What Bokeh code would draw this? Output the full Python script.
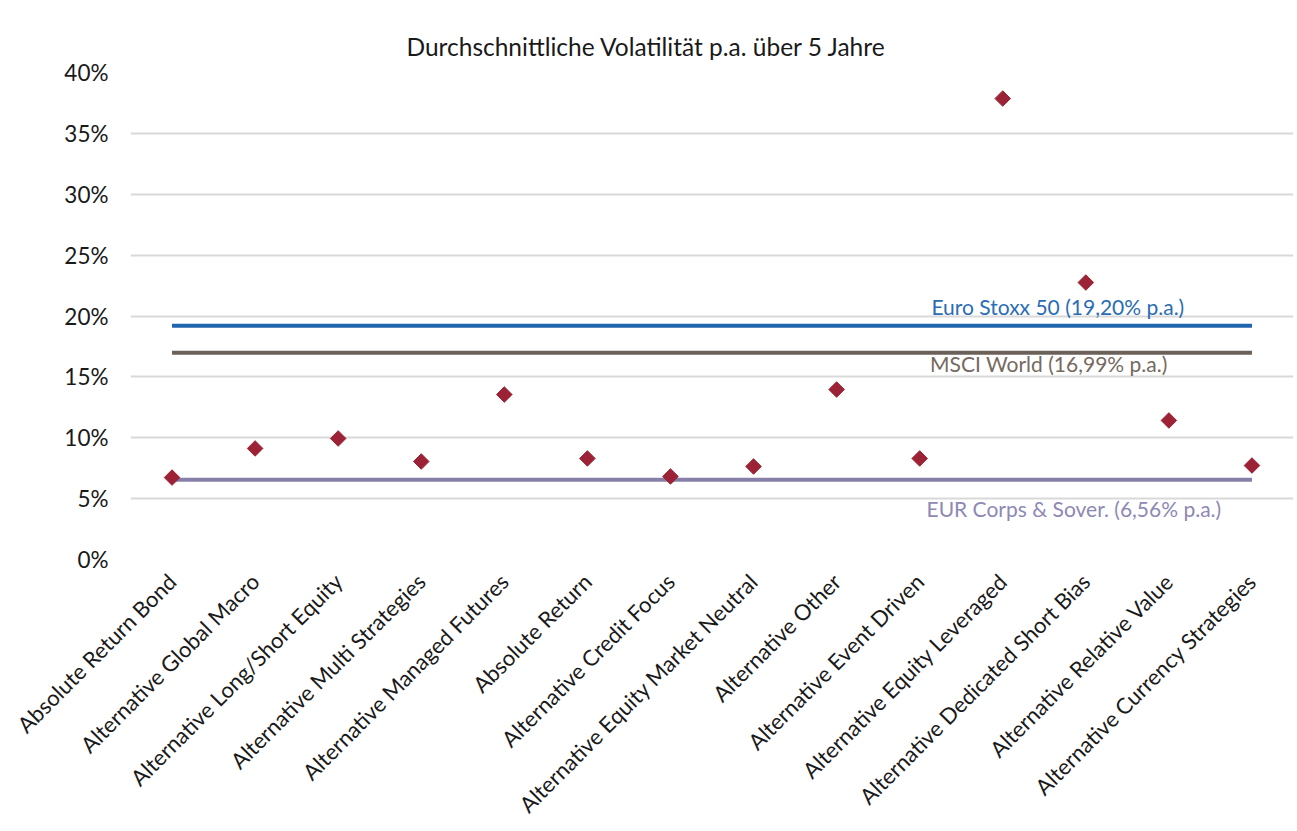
import math
from bokeh.plotting import figure
from bokeh.models import Range1d, FactorRange, FixedTicker, Title
from bokeh.core.properties import value
from bokeh.embed import file_html
from bokeh.resources import INLINE

categories = [
    "Absolute Return Bond",
    "Alternative Global Macro",
    "Alternative Long/Short Equity",
    "Alternative Multi Strategies",
    "Alternative Managed Futures",
    "Absolute Return",
    "Alternative Credit Focus",
    "Alternative Equity Market Neutral",
    "Alternative Other",
    "Alternative Event Driven",
    "Alternative Equity Leveraged",
    "Alternative Dedicated Short Bias",
    "Alternative Relative Value",
    "Alternative Currency Strategies",
]
volatility = [6.73, 9.12, 9.94, 8.05, 13.55, 8.30, 6.82, 7.64, 13.96, 8.30, 37.86, 22.75, 11.42, 7.72]

benchmark_names = ["Euro Stoxx 50 (19,20% p.a.)", "MSCI World (16,99% p.a.)", "EUR Corps & Sover. (6,56% p.a.)"]
benchmark_values = [19.20, 16.99, 6.56]

y_ticks = [0, 5, 10, 15, 20, 25, 30, 35, 40]
y_tick_labels = ["0%", "5%", "10%", "15%", "20%", "25%", "30%", "35%", "40%"]

title_text = "Durchschnittliche Volatilität p.a. über 5 Jahre"

FONT = "Lato"

p = figure(
    frame_width=1163, frame_height=487,
    x_range=FactorRange(*categories, range_padding=0),
    y_range=Range1d(0, 40),
    output_backend="svg", toolbar_location=None,
    min_border_left=130, min_border_right=2, min_border_top=72, min_border_bottom=260,
)
p.x_range.factor_padding = 0
p.outline_line_color = None
p.background_fill_color = "white"
p.border_fill_color = "white"

t = Title(text=title_text, align="left", offset=276, vertical_align="top",
          text_font=FONT, text_font_size="24.5px",
          text_font_style="normal", text_color="#1a1a1a", standoff=20)
p.add_layout(t, "above")

# grid
p.xgrid.grid_line_color = None
p.ygrid.grid_line_color = "#d9d9d9"
p.ygrid.grid_line_width = 2

# y axis
p.yaxis.ticker = FixedTicker(ticks=y_ticks)
p.yaxis.major_label_overrides = {t_: l for t_, l in zip(y_ticks, y_tick_labels)}
p.yaxis.axis_line_color = None
p.yaxis.major_tick_line_color = None
p.yaxis.minor_tick_line_color = None
p.yaxis.major_label_text_font = FONT
p.yaxis.major_label_text_font_size = "22.5px"
p.yaxis.major_label_text_color = "#1a1a1a"
p.yaxis.major_label_standoff = 16

# x axis
p.xaxis.axis_line_color = None
p.xaxis.major_tick_line_color = None
p.xaxis.minor_tick_line_color = None
p.xaxis.major_label_text_font = FONT
p.xaxis.major_label_text_font_size = "22px"
p.xaxis.major_label_text_color = "#1a1a1a"
p.xaxis.major_label_orientation = math.pi / 4
p.xaxis.major_label_standoff = 12

line_colors = ["#1f65ad", "#6b6158", "#8680a8"]
text_colors = ["#2a6db4", "#756a60", "#8e88b5"]
label_cats = ["Alternative Dedicated Short Bias", "Alternative Dedicated Short Bias", "Alternative Dedicated Short Bias"]
label_dx = [-28, -37, -12]
label_dy = [-19, 11, 29]

for name, v, lc, tc, lcat, dx, dy in zip(benchmark_names, benchmark_values, line_colors, text_colors, label_cats, label_dx, label_dy):
    p.line(x=[categories[0], categories[-1]], y=[v, v], line_color=lc, line_width=4)
    p.text(x=[lcat], y=[v], text=[name], x_offset=dx, y_offset=dy,
           text_font=value(FONT), text_font_size="21px", text_color=tc,
           text_align="center", text_baseline="middle")

p.scatter(x=categories, y=volatility, marker="square", angle=math.pi / 4, size=11,
          fill_color="#9b2335", line_color="#9b2335")

open("out.html", "w").write(file_html(p, INLINE))
